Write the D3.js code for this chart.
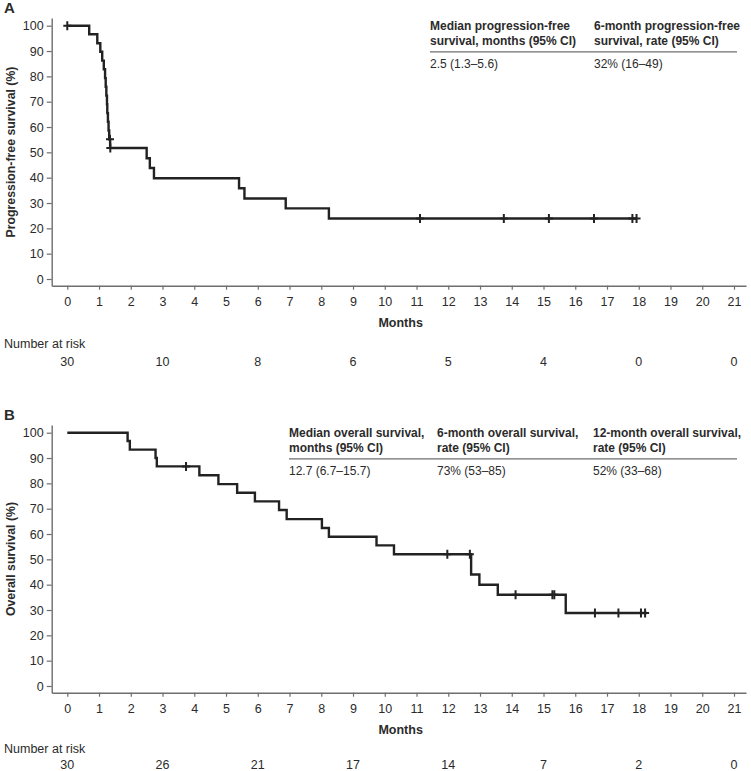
<!DOCTYPE html>
<html><head><meta charset="utf-8">
<script src="https://cdn.jsdelivr.net/npm/d3@7"></script>
<style>
body{margin:0;background:#fff;}
svg{display:block;font-family:"Liberation Sans",Arial,Helvetica,sans-serif;}
</style>
</head><body>
<svg id="chart" width="751" height="771"></svg>
<script>
// ---------- data ----------
const monthTicks = [0,1,2,3,4,5,6,7,8,9,10,11,12,13,14,15,16,17,18,19,20,21];
const pctTicks = [0,10,20,30,40,50,60,70,80,90,100];
const riskMonths = [0,3,6,9,12,15,18,21];

// Panel A: progression-free survival
const pfsTime = [0,0.69,0.945,1.04,1.10,1.15,1.19,1.21,1.23,1.25,1.26,1.28,1.30,1.32,1.35,2.50,2.60,2.73,5.41,5.58,6.88,8.24];
const pfsSurv = [100,96.6,93.1,89.7,86.2,82.8,79.3,75.9,72.4,69.0,65.5,62.1,58.6,55.2,51.7,47.7,43.8,39.8,35.8,31.8,27.9,23.9];
const pfsEnd = 17.95;
const pfsCensorTime = [0,1.345,1.355,11.11,13.75,15.17,16.59,17.80,17.93];
const pfsCensorSurv = [100,55.2,51.7,23.9,23.9,23.9,23.9,23.9,23.9];
const pfsRisk = [30,10,8,6,5,4,0,0];
const pfsHeaders = [["Median progression-free","survival, months (95% CI)"],["6-month progression-free","survival, rate (95% CI)"]];
const pfsValues = ["2.5 (1.3–5.6)","32% (16–49)"];

// Panel B: overall survival
const osTime = [0,1.90,1.97,2.78,2.82,4.16,4.76,5.35,5.91,6.67,6.91,8.02,8.24,9.74,10.29,12.72,12.98,13.56,15.70];
const osSurv = [100,96.7,93.3,90.0,86.7,83.2,79.7,76.3,72.9,69.5,65.9,62.4,58.9,55.5,52.0,44.0,40.0,36.0,28.8];
const osEnd = 18.25;
const osCensorTime = [3.74,11.97,12.68,14.12,15.28,15.34,16.62,17.36,18.07,18.20];
const osCensorSurv = [86.7,52.0,52.0,36.0,36.0,36.0,28.8,28.8,28.8,28.8];
const osRisk = [30,26,21,17,14,7,2,0];
const osHeaders = [["Median overall survival,","months (95% CI)"],["6-month overall survival,","rate (95% CI)"],["12-month overall survival,","rate (95% CI)"]];
const osValues = ["12.7 (6.7–15.7)","73% (53–85)","52% (33–68)"];

// ---------- drawing ----------
const svg = d3.select("#chart");
const axisColor = "#6e6e6e", textColor = "#2b2b2b", curveColor = "#222";

// scales (axis lines extend a little beyond 0..100 and 0..21)
const x = d3.scaleLinear().domain([-0.491, 21.378]).range([51.7, 746]);
const y = d3.scaleLinear().domain([-2.645, 103.04]).range([285.7, 18]);

function drawPanel(opt){
  const g = svg.append("g").attr("transform", `translate(0,${opt.dy})`);

  g.append("text").attr("x",4).attr("y",13.3).attr("font-size",15).attr("font-weight","bold")
    .attr("fill",textColor).text(opt.letter);

  // y axis
  const ya = g.append("g").attr("transform","translate(51.7,0)")
    .call(d3.axisLeft(y).tickValues(pctTicks).tickSize(5).tickPadding(3).tickSizeOuter(0));
  // x axis
  const xa = g.append("g").attr("transform","translate(0,285.7)")
    .call(d3.axisBottom(x).tickValues(monthTicks).tickSize(4).tickPadding(7).tickSizeOuter(0));
  [ya,xa].forEach(a=>{
    a.select(".domain").attr("stroke",axisColor).attr("stroke-width",1.4);
    a.selectAll(".tick line").attr("stroke",axisColor).attr("stroke-width",1.2);
    a.selectAll(".tick text").attr("fill",textColor).attr("font-size",12.5)
      .attr("font-family",'"Liberation Sans",Arial,sans-serif');
  });

  g.append("text").attr("transform","translate(14.5,152) rotate(-90)").attr("text-anchor","middle")
    .attr("font-size",12.3).attr("font-weight","bold").attr("fill",textColor).text(opt.yTitle);
  g.append("text").attr("x",x(10.5)).attr("y",326.5).attr("text-anchor","middle")
    .attr("font-size",12.5).attr("font-weight","bold").attr("fill",textColor).text("Months");

  // number at risk
  g.append("text").attr("x",4).attr("y",opt.riskLabelY).attr("font-size",12.5).attr("fill",textColor).text("Number at risk");
  g.selectAll("text.risk").data(opt.risk).join("text").attr("class","risk")
    .attr("x",(d,i)=>x(riskMonths[i])).attr("y",opt.riskY).attr("text-anchor","middle")
    .attr("font-size",12.5).attr("fill",textColor).text(d=>d);

  // KM curve
  const pts = opt.time.map((t,i)=>[t,opt.surv[i]]);
  pts.push([opt.end, opt.surv[opt.surv.length-1]]);
  g.append("path").attr("d", d3.line().x(d=>x(d[0])).y(d=>y(d[1])).curve(d3.curveStepAfter)(pts))
    .attr("fill","none").attr("stroke",curveColor).attr("stroke-width",2.4);
  const cens = opt.cTime.map((t,i)=>[t,opt.cSurv[i]]);
  g.selectAll("path.cens").data(cens).join("path").attr("class","cens")
    .attr("d",d=>`M${x(d[0])-4},${y(d[1])}h8M${x(d[0])},${y(d[1])-4.5}v9`)
    .attr("stroke",curveColor).attr("stroke-width",2).attr("fill","none");

  // summary table
  const t = g.append("g");
  opt.headers.forEach((h,i)=>{
    h.forEach((line,j)=>{
      t.append("text").attr("x",opt.colX[i]).attr("y",30.3+j*15).attr("font-size",12)
        .attr("font-weight","bold").attr("fill",textColor).text(line);
    });
    t.append("text").attr("x",opt.colX[i]).attr("y",67.8).attr("font-size",12)
      .attr("fill",textColor).text(opt.values[i]);
  });
  t.append("line").attr("x1",opt.colX[0]).attr("x2",737).attr("y1",51.8).attr("y2",51.8)
    .attr("stroke",axisColor).attr("stroke-width",1.3);
}

drawPanel({dy:0, letter:"A", yTitle:"Progression-free survival (%)",
  time:pfsTime, surv:pfsSurv, end:pfsEnd, cTime:pfsCensorTime, cSurv:pfsCensorSurv,
  risk:pfsRisk, headers:pfsHeaders, values:pfsValues, colX:[430,594], riskLabelY:347.5, riskY:365.5});
drawPanel({dy:407, letter:"B", yTitle:"Overall survival (%)",
  time:osTime, surv:osSurv, end:osEnd, cTime:osCensorTime, cSurv:osCensorSurv,
  risk:osRisk, headers:osHeaders, values:osValues, colX:[289,437,593], riskLabelY:346, riskY:361.5});
</script>
</body></html>
